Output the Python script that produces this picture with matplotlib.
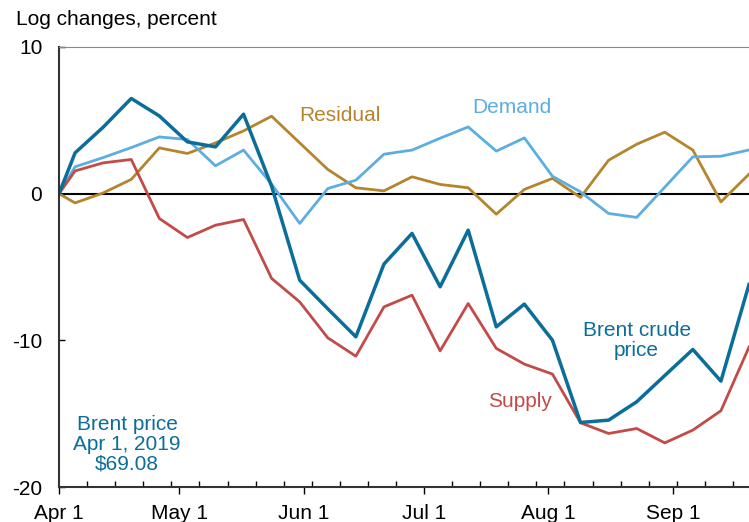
import datetime as dt
import matplotlib
matplotlib.use('Agg')
import matplotlib.pyplot as plt
import matplotlib.dates as mdates

plt.rcParams['font.family'] = ['Liberation Sans', 'DejaVu Sans']

# weekly dates: Apr 1 2019 then Fridays
dates = [dt.date(2019, 4, 1)] + [dt.date(2019, 4, 5) + dt.timedelta(days=7 * i) for i in range(25)]

brent = [0, 2.78, 4.53, 6.49, 5.30, 3.53, 3.19, 5.42, 0.5, -5.9,
         -7.85, -9.76, -4.8, -2.71, -6.35, -2.49, -9.08, -7.53, -9.99, -15.6,
         -15.44, -14.19, -12.4, -10.62, -12.78, -6.19]
demand = [0, 1.83, 2.46, 3.14, 3.87, 3.69, 1.9, 2.97, 0.65, -2.03,
          0.35, 0.92, 2.69, 2.97, 3.78, 4.55, 2.9, 3.8, 1.19, 0.12,
          -1.35, -1.62, 0.44, 2.51, 2.55, 2.98]
residual = [0, -0.63, 0.05, 0.97, 3.12, 2.74, 3.46, 4.28, 5.28, 3.46,
            1.65, 0.4, 0.19, 1.15, 0.63, 0.4, -1.4, 0.29, 1.04, -0.26,
            2.28, 3.37, 4.19, 2.97, -0.56, 1.33]
supply = [0, 1.55, 2.1, 2.33, -1.69, -2.99, -2.15, -1.76, -5.78, -7.38,
          -9.83, -11.08, -7.72, -6.92, -10.72, -7.49, -10.55, -11.62, -12.3, -15.62,
          -16.35, -16.01, -16.99, -16.12, -14.8, -10.46]

c_brent = '#0b6d99'
c_demand = '#5daee0'
c_resid = '#b5842c'
c_supply = '#c24b48'

fig = plt.figure(figsize=(7.49, 5.22), dpi=100)
ax = fig.add_axes([0.0788, 0.067, 0.9212, 0.843])

ax.axhline(0, color='black', lw=1.5, zorder=1)
ax.plot(dates, residual, color=c_resid, lw=2.0)
ax.plot(dates, demand, color=c_demand, lw=2.0)
ax.plot(dates, supply, color=c_supply, lw=2.0)
ax.plot(dates, brent, color=c_brent, lw=2.5)

ax.set_xlim(dt.date(2019, 4, 1), dt.date(2019, 9, 20) + dt.timedelta(hours=12))
ax.set_ylim(-20, 10)
ax.set_yticks([-20, -10, 0, 10])
ax.set_yticklabels(['-20', '-10', '0', '10'])

ax.xaxis.set_major_locator(mdates.MonthLocator())
ax.xaxis.set_major_formatter(mdates.DateFormatter('%b 1'))
ax.xaxis.set_minor_locator(mdates.WeekdayLocator(byweekday=mdates.MO))
ax.tick_params(axis='x', which='major', direction='out', length=5, width=1, labelsize=15, pad=7)
ax.tick_params(axis='x', which='minor', direction='in', length=4, width=1)
ax.tick_params(axis='y', direction='in', length=4, width=1, labelsize=15, pad=12)

ax.spines['right'].set_visible(False)
ax.spines['top'].set_color('#888888')
for s in ['left', 'bottom']:
    ax.spines[s].set_color('#333333')
    ax.spines[s].set_linewidth(1.5)

fs = 15
ax.text(dt.date(2019, 6, 10), 5.3, 'Residual', color=c_resid, fontsize=fs, ha='center', va='center')
ax.text(dt.date(2019, 7, 23), 5.9, 'Demand', color=c_demand, fontsize=fs, ha='center', va='center')
ax.text(dt.date(2019, 8, 23), -10.0, 'Brent crude\nprice', color=c_brent, fontsize=fs, ha='center', va='center', linespacing=1.1)
ax.text(dt.date(2019, 7, 25), -14.2, 'Supply', color=c_supply, fontsize=fs, ha='center', va='center')
ax.text(dt.date(2019, 4, 18), -17.1, 'Brent price\nApr 1, 2019\n$69.08', color=c_brent, fontsize=fs, ha='center', va='center', linespacing=1.05)

fig.text(0.022, 0.962, 'Log changes, percent', fontsize=15, ha='left', va='center')

fig.savefig('out.png', dpi=100)
